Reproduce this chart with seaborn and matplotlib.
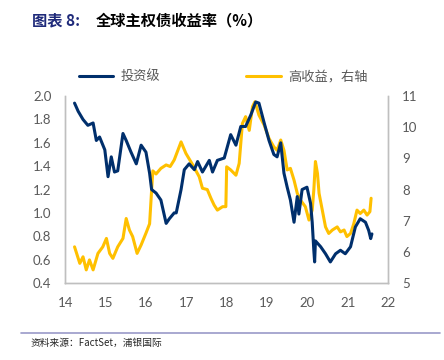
import pandas as pd
import matplotlib.pyplot as plt
import seaborn as sns

# Investment grade (left axis)
ig_year = [14.23, 14.32, 14.44, 14.56, 14.69, 14.77, 14.85, 14.98, 15.06, 15.14, 15.22, 15.3,
           15.43, 15.51, 15.63, 15.76, 15.88, 16.0, 16.09, 16.14, 16.25, 16.37, 16.5, 16.58,
           16.7, 16.75, 16.87, 16.95, 17.07, 17.2, 17.28, 17.4, 17.57, 17.65, 17.77, 17.94,
           18.1, 18.23, 18.35, 18.47, 18.6, 18.72, 18.8, 18.93, 19.05, 19.17, 19.25, 19.34,
           19.42, 19.5, 19.58, 19.67, 19.75, 19.79, 19.87, 19.99, 20.08, 20.12, 20.16, 20.18,
           20.2, 20.33, 20.45, 20.57, 20.7, 20.82, 20.94, 21.07, 21.19, 21.31, 21.44, 21.52,
           21.57, 21.6]
ig_yield = [1.94, 1.87, 1.80, 1.75, 1.77, 1.62, 1.65, 1.54, 1.31, 1.48, 1.35, 1.36,
            1.68, 1.62, 1.52, 1.42, 1.58, 1.52, 1.34, 1.20, 1.17, 1.11, 0.91, 0.95,
            1.00, 1.00, 1.20, 1.37, 1.42, 1.37, 1.44, 1.35, 1.45, 1.35, 1.45, 1.47,
            1.67, 1.58, 1.74, 1.74, 1.84, 1.95, 1.94, 1.77, 1.62, 1.50, 1.48, 1.60,
            1.34, 1.22, 1.11, 0.92, 1.14, 0.99, 1.20, 1.22, 1.08, 0.92, 0.68, 0.58,
            0.76, 0.71, 0.65, 0.58, 0.65, 0.68, 0.65, 0.71, 0.88, 0.95, 0.92, 0.85,
            0.78, 0.82]

# High yield (right axis)
hy_year = [14.23, 14.36, 14.44, 14.52, 14.6, 14.69, 14.81, 14.93, 15.02, 15.1, 15.18, 15.3,
           15.43, 15.51, 15.59, 15.67, 15.78, 15.88, 16.0, 16.09, 16.14, 16.17, 16.25, 16.37,
           16.5, 16.6, 16.7, 16.87, 16.99, 17.16, 17.32, 17.4, 17.52, 17.61, 17.69, 17.77,
           17.9, 17.98, 18.0, 18.1, 18.23, 18.31, 18.39, 18.47, 18.56, 18.64, 18.7, 18.8,
           18.93, 19.05, 19.17, 19.25, 19.34, 19.42, 19.5, 19.58, 19.67, 19.75, 19.83, 19.95,
           20.04, 20.12, 20.16, 20.2, 20.25, 20.29, 20.37, 20.45, 20.53, 20.62, 20.74, 20.82,
           20.91, 20.98, 21.07, 21.15, 21.23, 21.31, 21.4, 21.48, 21.55, 21.58]
hy_yield = [6.16, 5.63, 5.84, 5.42, 5.74, 5.42, 5.95, 6.16, 6.43, 5.95, 5.79, 6.16,
            6.43, 7.07, 6.70, 6.49, 5.95, 6.22, 6.60, 6.90, 7.98, 8.60, 8.50, 8.68,
            8.79, 8.74, 8.95, 9.53, 9.16, 8.79, 8.41, 8.04, 8.00, 7.72, 7.50, 7.34,
            7.45, 7.45, 8.73, 8.63, 8.46, 8.84, 10.12, 10.34, 9.90, 10.66, 10.82, 10.39,
            10.07, 9.64, 9.37, 9.26, 9.59, 9.26, 8.63, 8.68, 8.30, 7.88, 7.66, 7.45,
            7.02, 7.34, 7.98, 8.90, 8.52, 7.88, 7.34, 6.80, 6.59, 6.70, 6.80, 6.64,
            6.70, 6.49, 6.59, 6.90, 7.34, 7.23, 7.34, 7.18, 7.29, 7.72]

x_ticks = [14, 15, 16, 17, 18, 19, 20, 21, 22]
left_ticks = [0.4, 0.6, 0.8, 1.0, 1.2, 1.4, 1.6, 1.8, 2.0]
right_ticks = [5, 6, 7, 8, 9, 10, 11]

NAVY = '#002F6C'
GOLD = '#FFC000'
GREY = '#595959'

sns.set_style('white')
plt.rcParams['font.family'] = ['Lato', 'Noto Sans CJK SC', 'DejaVu Sans']

ig = pd.DataFrame({'year': ig_year, 'yield': ig_yield})
hy = pd.DataFrame({'year': hy_year, 'yield': hy_yield})

fig = plt.figure(figsize=(4.44, 3.6), dpi=100)
ax = fig.add_axes([0.147, 0.214, 0.727, 0.519])
ax2 = ax.twinx()

sns.lineplot(data=ig, x='year', y='yield', ax=ax, color=NAVY, linewidth=2.2, label='投资级', legend=False)
sns.lineplot(data=hy, x='year', y='yield', ax=ax2, color=GOLD, linewidth=2.2, label='高收益，右轴', legend=False)
ax.set_zorder(ax2.get_zorder() + 1)
ax.patch.set_visible(False)

ax.set_xlim(14, 22)
ax.set_ylim(0.4, 2.0)
ax2.set_ylim(5, 11)
ax.set_xticks(x_ticks)
ax.set_xticklabels([str(t) for t in x_ticks])
ax.set_yticks(left_ticks)
ax.set_yticklabels([f'{t:.1f}' for t in left_ticks])
ax2.set_yticks(right_ticks)
ax.set_xlabel('')
ax.set_ylabel('')
ax2.set_ylabel('')

for a in (ax, ax2):
    for s in ('top',):
        a.spines[s].set_visible(False)
    for s in ('left', 'right', 'bottom'):
        a.spines[s].set_color('#BFBFBF')
        a.spines[s].set_linewidth(1.0)
    a.tick_params(colors=GREY, labelsize=9.5, length=0, pad=10)
ax.tick_params(axis='x', length=4, color='#BFBFBF', direction='out', pad=6)

handles = [ax.get_lines()[0], ax2.get_lines()[0]]
leg = ax.legend(handles, ['投资级', '高收益，右轴'], loc='lower center', bbox_to_anchor=(0.49, 1.0),
                ncol=2, frameon=False, fontsize=9.5, columnspacing=6.5, handlelength=2.6,
                handletextpad=0.6, borderaxespad=0.6)
for t in leg.get_texts():
    t.set_color(GREY)

fig.text(0.072, 0.944, '图表 8:', fontsize=11, fontweight='bold', color='#1F2A7A',
         family=['Noto Sans CJK SC'], va='center')
fig.text(0.215, 0.944, '全球主权债收益率（%）', fontsize=11, fontweight='bold', color='black',
         family=['Noto Sans CJK SC'], va='center')

fig.add_artist(plt.Line2D([0.047, 0.99], [0.075, 0.075], color='#9A9AC8', linewidth=1.2))
fig.text(0.068, 0.047, '资料来源：FactSet，浦银国际', fontsize=7, color='#262626',
         family=['Noto Sans CJK SC'], va='center')

fig.savefig('out.png', dpi=100)
